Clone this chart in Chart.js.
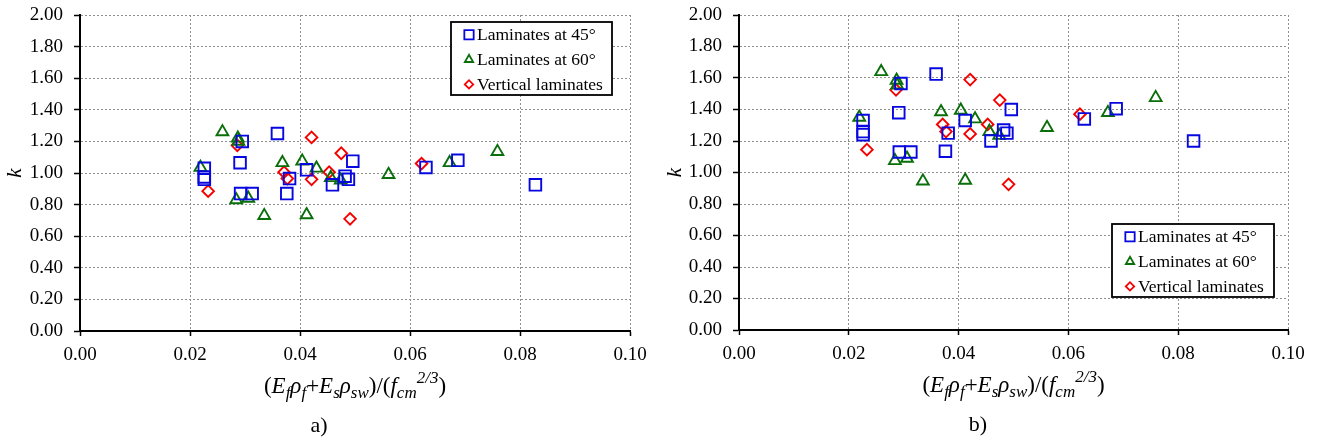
<!DOCTYPE html>
<html>
<head>
<meta charset="utf-8">
<script src="https://cdn.jsdelivr.net/npm/chart.js@4.4.1/dist/chart.umd.min.js"></script>
<style>
  html, body { margin: 0; padding: 0; background: #fff; }
  #wrap { display: flex; width: 1320px; height: 441px; }
  .cell { position: relative; width: 660px; height: 441px; }
</style>
</head>
<body>
<div id="wrap">
  <div class="cell"><canvas id="chartA" width="660" height="441"></canvas></div>
  <div class="cell"><canvas id="chartB" width="660" height="441"></canvas></div>
</div>
<script>
// ---- data ----
const xTickLabels = ['0.00', '0.02', '0.04', '0.06', '0.08', '0.10'];
const yTickLabels = ['0.00', '0.20', '0.40', '0.60', '0.80', '1.00', '1.20', '1.40', '1.60', '1.80', '2.00'];
const seriesNames = ['Laminates at 45\u00b0', 'Laminates at 60\u00b0', 'Vertical laminates'];
const panelLabels = ['a)', 'b)'];

// laminates at 45°
const x45  = [0.0226, 0.0226, 0.0226, 0.0295, 0.0291, 0.0292, 0.0313, 0.0359, 0.0376, 0.0381, 0.0412, 0.0459, 0.0482, 0.0488, 0.0496, 0.0629, 0.0687, 0.0828];
const kA45 = [1.03, 0.975, 0.96, 1.20, 1.065, 0.87, 0.87, 1.25, 0.87, 0.965, 1.02, 0.925, 0.98, 0.96, 1.075, 1.035, 1.08, 0.925];
const kB45 = [1.33, 1.26, 1.24, 1.565, 1.38, 1.13, 1.13, 1.625, 1.135, 1.25, 1.33, 1.20, 1.27, 1.25, 1.40, 1.34, 1.405, 1.20];

// laminates at 60°
const x60  = [0.0219, 0.0259, 0.0287, 0.0288, 0.0284, 0.0306, 0.0335, 0.0368, 0.0404, 0.0412, 0.0430, 0.0456, 0.0474, 0.0561, 0.0672, 0.0759];
const kA60 = [1.035, 1.26, 1.22, 1.20, 0.83, 0.84, 0.73, 1.065, 1.075, 0.735, 1.03, 0.97, 0.955, 0.99, 1.065, 1.135];
const kB60 = [1.35, 1.64, 1.585, 1.555, 1.075, 1.09, 0.945, 1.385, 1.395, 0.95, 1.34, 1.26, 1.235, 1.285, 1.38, 1.475];

// vertical laminates
const xVert  = [0.0233, 0.0286, 0.0371, 0.0377, 0.0421, 0.0421, 0.0453, 0.0475, 0.0491, 0.0621];
const kAVert = [0.885, 1.175, 1.005, 0.965, 1.225, 0.96, 1.005, 1.125, 0.71, 1.06];
const kBVert = [1.145, 1.525, 1.305, 1.26, 1.59, 1.245, 1.305, 1.46, 0.925, 1.37];

// ---- styling ----
const FONT = "'Liberation Serif', 'Times New Roman', serif";
const BLUE = '#0707e0';
const GREEN = '#0a6e0a';
const RED = '#f50000';

const seriesStyles = [
  { color: BLUE,  style: 'rect',     radius: 8.2, legendRadius: 6.6 },
  { color: GREEN, style: 'triangle', radius: 6.8, legendRadius: 4.8 },
  { color: RED,   style: 'rectRot',  radius: 5.8, legendRadius: 4.2 }
];

function pts(xs, ks) { return xs.map((x, i) => ({ x: x, y: ks[i] })); }

function drawMarker(ctx, style, x, y, r) {
  ctx.beginPath();
  if (style === 'rect') {
    const s = r * Math.SQRT1_2;
    ctx.rect(x - s, y - s, 2 * s, 2 * s);
  } else if (style === 'triangle') {
    ctx.moveTo(x, y - r);
    ctx.lineTo(x + r * Math.sin(2 * Math.PI / 3), y + r / 2);
    ctx.lineTo(x - r * Math.sin(2 * Math.PI / 3), y + r / 2);
    ctx.closePath();
  } else {
    ctx.moveTo(x - r, y);
    ctx.lineTo(x, y - r);
    ctx.lineTo(x + r, y);
    ctx.lineTo(x, y + r);
    ctx.closePath();
  }
  ctx.stroke();
}

// boxed legend drawn inside the plot area
const boxLegend = {
  id: 'boxLegend',
  afterDatasetsDraw(chart, args, o) {
    const { ctx, chartArea } = chart;
    const w = o.width, h = o.height;
    const left = chartArea.right - o.right - w;
    const top = o.top !== undefined ? chartArea.top + o.top : chartArea.bottom - o.bottom - h;
    ctx.save();
    ctx.fillStyle = '#fff';
    ctx.fillRect(left, top, w, h);
    ctx.lineWidth = 1.8;
    ctx.strokeStyle = '#000';
    ctx.strokeRect(left, top, w, h);
    ctx.font = '17.5px ' + FONT;
    ctx.textBaseline = 'middle';
    ctx.textAlign = 'left';
    chart.data.datasets.forEach((ds, i) => {
      const cy = top + o.firstRow + i * o.rowGap;
      ctx.strokeStyle = ds.pointBorderColor;
      ctx.lineWidth = 1.8;
      drawMarker(ctx, ds.pointStyle, left + o.markerX, cy, ds.legendRadius);
      ctx.fillStyle = '#000';
      ctx.fillText(ds.label, left + o.textX, cy + 1);
    });
    ctx.restore();
  }
};

// x-axis title with sub/superscripts, and the panel letter
const axisTitle = {
  id: 'axisTitle',
  afterDraw(chart, args, o) {
    const { ctx, chartArea } = chart;
    const parts = [
      ['(', 'n'], ['E', 'i'], ['f', 'sub'], ['\u03c1', 'i'], ['f', 'sub'], ['+', 'n'],
      ['E', 'i'], ['s', 'sub'], ['\u03c1', 'i'], ['sw', 'sub'], [')/(', 'n'],
      ['f', 'i'], ['cm', 'sub'], ['2/3', 'sup'], [')', 'n']
    ];
    const fontFor = (k) => {
      if (k === 'n') return '23px ' + FONT;
      if (k === 'i') return 'italic 23px ' + FONT;
      return 'italic 17px ' + FONT;
    };
    const shift = { n: 0, i: 0, sub: 5, sup: -10 };
    ctx.save();
    ctx.fillStyle = '#000';
    ctx.textBaseline = 'alphabetic';
    ctx.textAlign = 'left';
    let total = 0;
    const widths = parts.map(([t, k]) => { ctx.font = fontFor(k); const w = ctx.measureText(t).width; total += w; return w; });
    const cx = (chartArea.left + chartArea.right) / 2;
    const base = chartArea.bottom + 62;
    let x = cx - total / 2;
    parts.forEach(([t, k], i) => {
      ctx.font = fontFor(k);
      ctx.fillText(t, x, base + shift[k]);
      x += widths[i];
    });
    ctx.font = '22px ' + FONT;
    ctx.textAlign = 'center';
    ctx.fillText(o.panel, chartArea.left + 239, chartArea.bottom + 101);
    ctx.restore();
  }
};

function makeChart(canvasId, kSets, area, legendPos, panel) {
  const xs = [x45, x60, xVert];
  const datasets = seriesNames.map((name, i) => ({
    label: name,
    data: pts(xs[i], kSets[i]),
    pointStyle: seriesStyles[i].style,
    pointRadius: seriesStyles[i].radius,
    pointHoverRadius: seriesStyles[i].radius,
    pointBorderColor: seriesStyles[i].color,
    pointBackgroundColor: 'rgba(0,0,0,0)',
    pointBorderWidth: 1.9,
    legendRadius: seriesStyles[i].legendRadius,
    showLine: false
  }));

  return new Chart(document.getElementById(canvasId), {
    type: 'scatter',
    data: { datasets },
    plugins: [boxLegend, axisTitle],
    options: {
      responsive: false,
      animation: false,
      devicePixelRatio: 1,
      events: [],
      layout: { padding: { left: 0, right: 660 - area.right, top: area.top, bottom: 0 } },
      plugins: {
        legend: { display: false },
        tooltip: { enabled: false },
        boxLegend: legendPos,
        axisTitle: { panel: panel }
      },
      scales: {
        x: {
          type: 'linear',
          min: 0, max: 0.1,
          afterBuildTicks: (s) => { s.ticks = xTickLabels.map(l => ({ value: parseFloat(l) })); },
          afterFit: (s) => { s.height = 441 - area.bottom; s.paddingLeft = 0; s.paddingRight = 0; },
          ticks: {
            callback: (v, i) => xTickLabels[i],
            font: { family: FONT, size: 19 },
            color: '#000',
            padding: 8,
            maxRotation: 0
          },
          grid: { color: '#8f8f8f', lineWidth: 1, tickLength: 5, tickColor: '#000', tickWidth: 1.5 },
          border: { display: true, color: '#000', width: 2, dash: [2, 2] }
        },
        y: {
          type: 'linear',
          min: 0, max: 2,
          afterBuildTicks: (s) => { s.ticks = yTickLabels.map(l => ({ value: parseFloat(l) })); },
          afterFit: (s) => { s.width = area.left; s.paddingTop = 0; s.paddingBottom = 0; },
          ticks: {
            callback: (v, i) => yTickLabels[i],
            font: { family: FONT, size: 19 },
            color: '#000',
            padding: 11
          },
          title: {
            display: true,
            text: 'k',
            font: { family: FONT, size: 21, style: 'italic' },
            color: '#000',
            padding: { top: 3, bottom: 0 }
          },
          grid: { color: '#8f8f8f', lineWidth: 1, tickLength: 6, tickColor: '#000', tickWidth: 1.5 },
          border: { display: true, color: '#000', width: 2, dash: [2, 2] }
        }
      }
    }
  });
}

makeChart('chartA', [kA45, kA60, kAVert],
  { left: 80, right: 630, top: 15, bottom: 331 },
  { width: 161, height: 73, right: 18, top: 7, firstRow: 12.8, rowGap: 24.8, markerX: 18, textX: 26 },
  panelLabels[0]);

makeChart('chartB', [kB45, kB60, kBVert],
  { left: 79, right: 628, top: 15, bottom: 330 },
  { width: 162, height: 73, right: 14, bottom: 33, firstRow: 12.8, rowGap: 24.8, markerX: 18, textX: 26 },
  panelLabels[1]);
</script>
</body>
</html>
